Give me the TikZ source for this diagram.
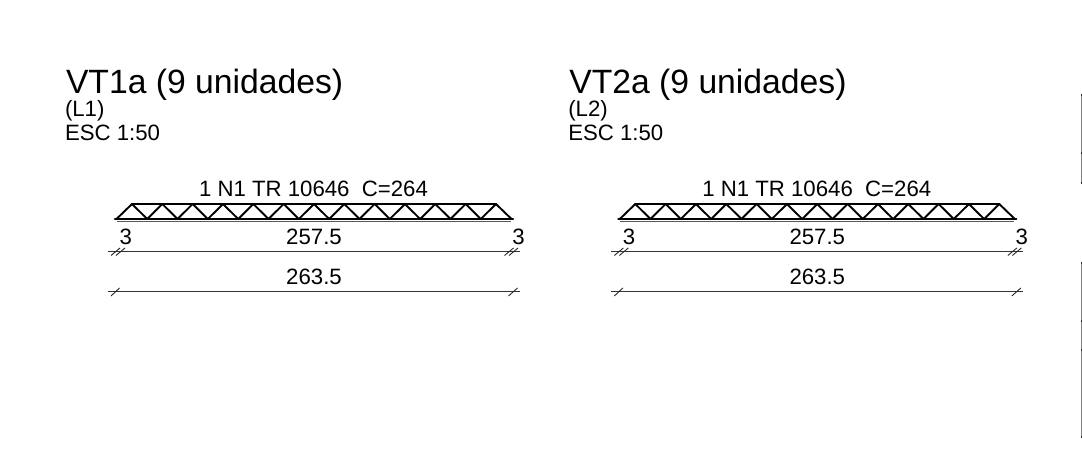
\documentclass[tikz,border=0pt]{standalone}
\usepackage{fontspec}
\setmainfont{Liberation Sans}
\tikzset{
  lbl/.style={inner sep=0pt,outer sep=0pt,anchor=base,font=\fontsize{22.2}{24}\selectfont,text=black},
  lblw/.style={lbl,anchor=base west},
  ttl/.style={inner sep=0pt,outer sep=0pt,anchor=base west,font=\fontsize{33.7}{36}\selectfont,text=black},
  chord/.style={line width=2.2pt,draw=black,line cap=round},
  web/.style={line width=1.9pt,draw=black,line cap=round,line join=round},
  thinchord/.style={line width=1.5pt,draw=black!65},
  dimline/.style={line width=0.9pt,draw=black!80},
  tickline/.style={line width=0.9pt,draw=black!85},
  siderule/.style={line width=1.2pt,draw=black!50},
  sidetick/.style={line width=1.2pt,draw=black!85}
}
\begin{document}
\begin{tikzpicture}[x=1pt,y=-1pt]
\path[use as bounding box,fill=white] (0,0) rectangle (1082,476);
\foreach \p/\dx/\nm/\lv in {a/0/VT1a/L1,b/503.3/VT2a/L2}{
\begin{scope}[shift={(\dx,0)}]
  \node[ttl] (\p title) at (66,93.5) {\nm{} (9 unidades)};
  \node[lblw] (\p level) at (65,117) {(\lv)};
  \node[lblw] (\p scale) at (65,140.5) {ESC 1:50};
  \node[lbl] (\p bar) at (313.5,196.2) {1 N1 TR 10646\ \ C=264};
  \node[lbl] (\p l3) at (125.7,244.5) {3};
  \node[lbl] (\p r3) at (518.5,244.5) {3};
  \node[lbl] (\p mid) at (314,244.5) {257.5};
  \node[lbl] (\p tot) at (314,284.5) {263.5};
  % truss
  \coordinate (\p bl) at (115,219);
  \coordinate (\p br) at (513,219);
  \coordinate (\p dl) at (116.5,219);
  \coordinate (\p dr) at (511.5,219);
  \coordinate (\p cl) at (117,221.3);
  \coordinate (\p cr) at (511,221.3);
  \foreach \i in {0,...,12}{\coordinate (\p t\i) at ({132+30.33*\i},204);}
  \foreach \i in {0,...,11}{\coordinate (\p u\i) at ({147.2+30.33*\i},219);}
  \draw[thinchord] (\p cl) -- (\p cr);
  \draw[chord] (\p bl) -- (\p br);
  \draw[chord] (\p t0) -- (\p t12);
  \draw[web] (\p dl) -- (\p t0);
  \draw[web] (\p t12) -- (\p dr);
  \foreach \i [evaluate=\i as \j using int(\i+1)] in {0,...,11}{
    \draw[web] (\p t\i) -- (\p u\i);
    \draw[web] (\p u\i) -- (\p t\j);
  }
  % dimension lines
  \coordinate (\p da) at (108,251.7);
  \coordinate (\p db) at (520,251.7);
  \coordinate (\p ea) at (108,291.7);
  \coordinate (\p eb) at (520,291.7);
  \draw[dimline] (\p da) -- (\p db);
  \draw[dimline] (\p ea) -- (\p eb);
  \draw[tickline] (111,255.5) -- (120,248);
  \draw[tickline] (116,255.5) -- (125,248);
  \draw[tickline] (504.5,255.5) -- (513.5,248);
  \draw[tickline] (509,255.5) -- (518,248);
  \draw[tickline] (111,296) -- (119.5,288);
  \draw[tickline] (508.5,296) -- (517.5,288);
\end{scope}
}
\coordinate (s1) at (1081.4,95);
\coordinate (s2) at (1081.4,183);
\coordinate (s3) at (1081.4,263);
\coordinate (s4) at (1081.4,437);
\draw[siderule] (s1) -- (s2);
\draw[siderule] (s3) -- (s4);
\foreach \y in {95,153,183,263,321,350,437}{
  \draw[sidetick] (1081,\y) -- (1082,\y);
}
\end{tikzpicture}
\end{document}
